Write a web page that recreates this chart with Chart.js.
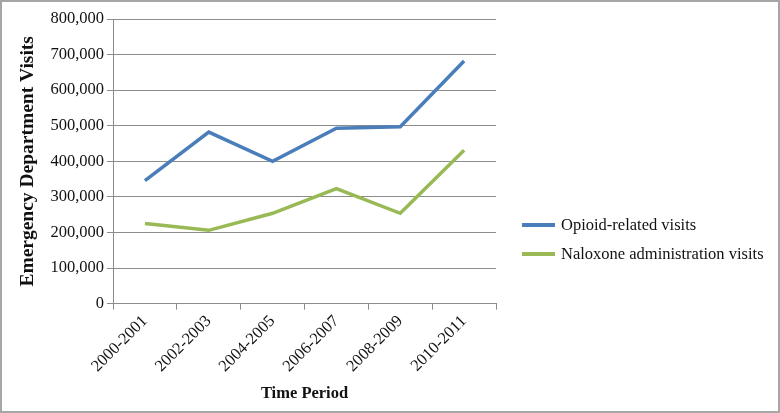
<!DOCTYPE html>
<html>
<head>
<meta charset="utf-8">
<script src="https://cdn.jsdelivr.net/npm/chart.js@4.4.1/dist/chart.umd.min.js"></script>
<style>
    html, body { margin: 0; padding: 0; background: #fff; }
    #frame {
        position: relative;
        width: 780px; height: 413px;
        box-sizing: border-box;
        border: 2px solid #a6a6a6;
        font-family: "Liberation Serif", "Times New Roman", serif;
    }
    #chartBox { position: absolute; left: 0; top: 0; width: 776px; height: 409px; }
    #legend { position: absolute; left: 520px; top: 208px; font-size: 16.5px; color: #111; }
    .leg-item { display: flex; align-items: center; height: 29px; }
    .leg-line { width: 33px; height: 4px; margin-right: 6px; }
</style>
</head>
<body>
<div id="frame">
    <div id="chartBox"><canvas id="edChart"></canvas></div>
    <div id="legend"></div>
</div>
<script>
// valores
const periods = ['2000-2001', '2002-2003', '2004-2005', '2006-2007', '2008-2009', '2010-2011'];
const opioidVisits = [346000, 482000, 400000, 493000, 497000, 682000];
const naloxoneVisits = [225000, 206000, 254000, 323000, 254000, 431000];
const yTicks = [0, 100000, 200000, 300000, 400000, 500000, 600000, 700000, 800000];

const seriesNames = ['Opioid-related visits', 'Naloxone administration visits'];
const seriesColors = ['#4a7ebb', '#98b954'];
const gridColor = '#8c8c8c';
const fontFamily = '"Liberation Serif", "Times New Roman", serif';

function renderChart() {
    const ctx = document.getElementById('edChart');
    if (!ctx) return;

    const chart = new Chart(ctx.getContext('2d'), {
        type: 'line',
        data: {
            labels: periods,
            datasets: [
                { label: seriesNames[0], data: opioidVisits, borderColor: seriesColors[0], backgroundColor: seriesColors[0] },
                { label: seriesNames[1], data: naloxoneVisits, borderColor: seriesColors[1], backgroundColor: seriesColors[1] }
            ]
        },
        options: {
            responsive: true,
            maintainAspectRatio: false,
            animation: false,
            layout: { padding: { top: 17, right: 282, bottom: 7, left: 14 } },
            elements: {
                line: { borderWidth: 3.5, tension: 0 },
                point: { radius: 0 }
            },
            plugins: {
                legend: { display: false },
                tooltip: { enabled: false }
            },
            scales: {
                y: {
                    min: 0,
                    max: 800000,
                    afterBuildTicks: (axis) => { axis.ticks = yTicks.map(v => ({ value: v })); },
                    grid: { color: gridColor, lineWidth: 1, tickLength: 6 },
                    border: { color: gridColor },
                    ticks: {
                        color: '#111',
                        padding: 3,
                        font: { family: fontFamily, size: 16.5 },
                        callback: (v) => v.toLocaleString('en-US')
                    },
                    title: {
                        display: true,
                        text: 'Emergency Department Visits',
                        color: '#111',
                        padding: { top: 0, bottom: 8 },
                        font: { family: fontFamily, size: 19.5, weight: 'bold' }
                    }
                },
                x: {
                    offset: true,
                    grid: { offset: true, drawOnChartArea: false, color: gridColor, tickLength: 6 },
                    border: { color: gridColor },
                    ticks: {
                        color: '#111',
                        minRotation: 45,
                        maxRotation: 45,
                        padding: 2,
                        font: { family: fontFamily, size: 16.5 }
                    },
                    title: {
                        display: true,
                        text: 'Time Period',
                        color: '#111',
                        padding: { top: 6, bottom: 0 },
                        font: { family: fontFamily, size: 16.5, weight: 'bold' }
                    }
                }
            }
        }
    });

    renderLegend(chart);
}

function renderLegend(chart) {
    const box = document.getElementById('legend');
    if (!box) return;
    let html = '';
    chart.data.datasets.forEach(ds => {
        html += `<div class="leg-item"><span class="leg-line" style="background:${ds.borderColor}"></span><span>${ds.label}</span></div>`;
    });
    box.innerHTML = html;
}

renderChart();
</script>
</body>
</html>
